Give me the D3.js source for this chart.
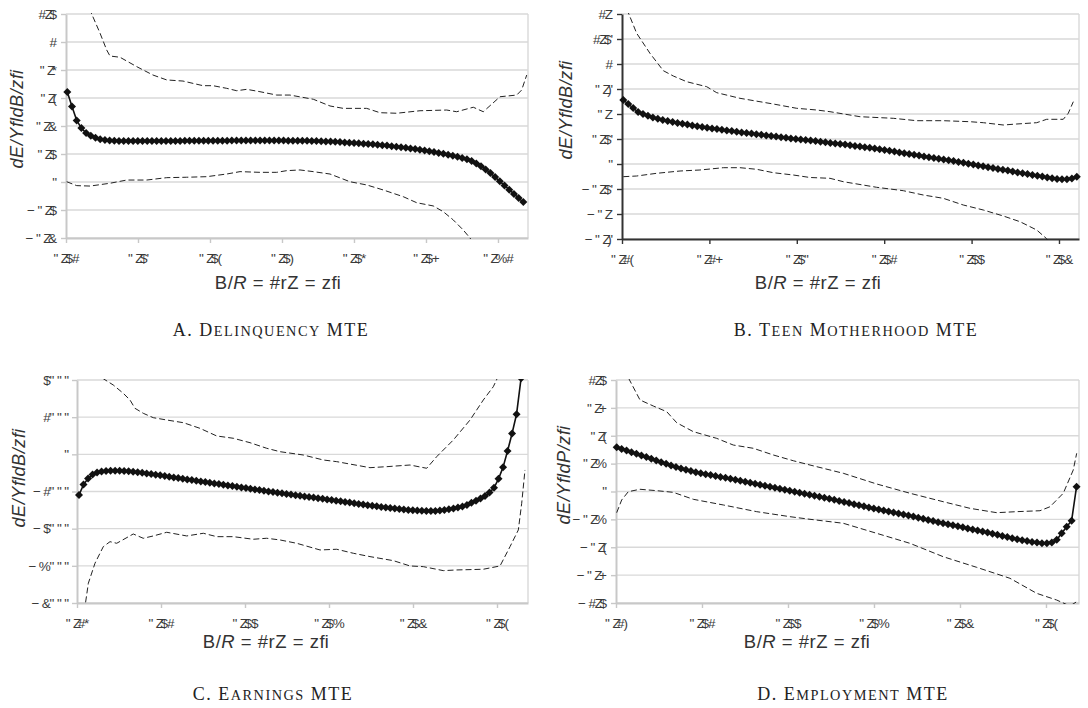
<!DOCTYPE html>
<html><head><meta charset="utf-8">
<script src="https://cdn.jsdelivr.net/npm/d3@7"></script>
<style>body{margin:0;background:#fff}svg{display:block}</style>
</head><body>
<svg id="c" width="1088" height="708"></svg>
<script>
// ---------- DATA ----------
// Panel A: Delinquency MTE
const mteA = [.643,.54,.44,.385,.35,.33,.316,.306,.3,.296,
.294,.293,.292,.292,.292,.292,.292,.292,.292,.292,
.293,.293,.293,.293,.293,.294,.294,.294,.294,.294,
.295,.295,.295,.295,.295,.296,.296,.296,.296,.296,
.296,.296,.296,.296,.296,.296,.296,.295,.295,.295,
.294,.294,.293,.292,.291,.29,.289,.287,.285,.283,
.281,.279,.277,.274,.272,.269,.266,.263,.26,.256,
.252,.248,.244,.24,.235,.23,.225,.22,.214,.208,
.202,.195,.188,.18,.172,.163,.15,.133,.113,.09,
.065,.035,.005,-.025,-.055,-.085,-.115,-.143];
const gridA = [0.018, 0.0653];
const upperA = [[.278,1.3],[.357,1.2],[.472,1.064],[.565,.943],[.611,.9],[.75,.891],[.982,.824],[1.208,.764],[1.399,.729],[1.625,.721],[1.903,.688],[2.042,.688],[2.232,.669],[2.371,.652],[2.51,.662],[2.694,.645],[2.926,.621],[3.111,.621],[3.435,.591],[3.667,.543],[3.851,.526],[4.176,.526],[4.361,.495],[4.593,.491],[4.917,.509],[5.288,.514],[5.426,.502],[5.657,.534],[5.796,.502],[6.028,.609],[6.26,.621],[6.329,.657],[6.399,.764]];
const lowerA = [[.01,.002],[.149,-.026],[.333,-.029],[.611,-.009],[.843,.014],[1.121,.014],[1.399,.031],[1.676,.034],[1.954,.038],[2.232,.057],[2.417,.074],[2.694,.069],[2.926,.069],[3.065,.081],[3.25,.086],[3.435,.074],[3.667,.057],[3.944,.002],[4.176,-.021],[4.407,-.057],[4.685,-.105],[4.871,-.148],[5.101,-.171],[5.24,-.212],[5.379,-.271],[5.518,-.343],[5.611,-.4],[5.75,-.5]];
const yTicksA = [1.2,1,0.8,0.6,0.4,0.2,0,-0.2,-0.4];
const yLabelsA = ["#Z$","#","\"Z*","\"Z(","\"Z&","\"Z$","\"","\u2212\"Z$","\u2212\"Z&"];
const xLabelsA = ["\"Z$#","\"Z$'","\"Z$(","\"Z$)","\"Z$*","\"Z$+","\"Z%#"];

// Panel B: Teen motherhood MTE
const mteB = [.64,.6,.56,.52,.5,.482,.465,.452,.44,.43,
.42,.41,.402,.394,.386,.378,.37,.363,.356,.349,
.342,.335,.329,.322,.316,.31,.304,.298,.292,.286,
.28,.274,.268,.262,.256,.25,.245,.24,.235,.229,
.223,.217,.211,.205,.2,.194,.188,.181,.175,.168,
.162,.155,.148,.14,.132,.124,.116,.108,.1,.092,
.084,.076,.068,.06,.052,.045,.037,.029,.02,.012,
.003,-.006,-.014,-.023,-.032,-.04,-.049,-.058,-.066,-.075,
-.084,-.093,-.101,-.11,-.118,-.126,-.135,-.143,-.149,-.152,
-.152,-.145,-.127];
const gridB = [0.015, 0.0564];
const upperB = [[.046,1.64],[.072,1.513],[.168,1.307],[.32,1.107],[.473,.933],[.587,.88],[.74,.823],[.969,.773],[1.084,.713],[1.35,.657],[1.731,.6],[1.999,.557],[2.228,.54],[2.38,.523],[2.723,.473],[3.104,.457],[3.372,.433],[3.676,.433],[3.982,.423],[4.134,.413],[4.363,.39],[4.516,.4],[4.745,.413],[4.859,.447],[5.049,.447],[5.106,.507],[5.164,.623]];
const lowerB = [[.015,-.127],[.168,-.12],[.397,-.093],[.664,-.07],[.892,-.06],[1.159,-.037],[1.35,-.037],[1.541,-.053],[1.731,-.087],[1.96,-.11],[2.151,-.135],[2.38,-.143],[2.532,-.177],[2.914,-.233],[3.219,-.267],[3.447,-.31],[3.676,-.343],[3.905,-.41],[4.134,-.46],[4.363,-.52],[4.554,-.577],[4.745,-.66],[4.859,-.747],[4.92,-.82]];
const yTicksB = [1.5,1.25,1,0.75,0.5,0.25,0,-0.25,-0.5,-0.75];
const yLabelsB = ["#Z","#Z$'","#","\"Z)'","\"Z","\"Z$'","\"","\u2212\"Z$'","\u2212\"Z","\u2212\"Z)'"];
const xLabelsB = ["\"Z#(","\"Z#+","\"Z$\"","\"Z$#","\"Z$$","\"Z$&"];

// Panel C: Earnings MTE
const mteC = [-1094,-815,-650,-545,-490,-462,-448,-441,-439,-440,
-446,-454,-466,-480,-497,-514,-531,-548,-566,-584,
-602,-620,-638,-656,-674,-692,-710,-728,-746,-764,
-782,-800,-818,-836,-854,-872,-890,-908,-926,-944,
-962,-980,-998,-1016,-1033,-1050,-1067,-1084,-1100,-1116,
-1132,-1148,-1164,-1180,-1197,-1214,-1231,-1248,-1265,-1282,
-1299,-1316,-1333,-1350,-1367,-1384,-1400,-1416,-1431,-1446,
-1460,-1473,-1485,-1496,-1506,-1514,-1520,-1524,-1525,-1523,
-1512,-1497,-1478,-1455,-1430,-1402,-1360,-1305,-1250,-1190,
-1120,-1030,-900,-660,-350,90,560,1080,2050];
const gridC = [0.024, 0.0537];
const upperC = [[.25,2269],[.294,2062],[.432,1865],[.551,1642],[.631,1462],[.69,1239],[.789,1104],[.908,986],[1.068,924],[1.267,851],[1.464,700],[1.663,494],[1.861,432],[2.06,313],[2.258,163],[2.417,71],[2.694,-18],[2.932,-152],[3.092,-197],[3.488,-359],[3.687,-332],[3.964,-287],[4.163,-375],[4.282,-63],[4.48,386],[4.679,924],[4.837,1462],[4.956,1820],[5.036,2200]];
const lowerC = [[.06,-4456],[.095,-4098],[.135,-3469],[.214,-2931],[.313,-2484],[.393,-2350],[.473,-2393],[.67,-2143],[.789,-2259],[.908,-2196],[1.068,-2097],[1.306,-2196],[1.504,-2124],[1.663,-2215],[1.861,-2215],[2.099,-2285],[2.258,-2258],[2.417,-2304],[2.615,-2393],[2.893,-2573],[3.092,-2554],[3.29,-2662],[3.488,-2752],[3.765,-2860],[3.964,-3003],[4.123,-3022],[4.361,-3129],[4.52,-3111],[4.837,-3092],[5.036,-3003],[5.155,-2484],[5.254,-2035],[5.294,-1317],[5.333,-421]];
const yTicksC = [2000,1000,0,-1000,-2000,-3000,-4000];
const yLabelsC = ["$\"\"\"","#\"\"\"","\"","\u2212#\"\"\"","\u2212$\"\"\"","\u2212%\"\"\"","\u2212&\"\"\""];
const xLabelsC = ["\"Z#*","\"Z$#","\"Z$$","\"Z$%","\"Z$&","\"Z$("];

// Panel D: Employment MTE
const mteD = [.476,.458,.441,.423,.405,.388,.37,.352,.334,.316,
.298,.28,.263,.248,.234,.22,.208,.197,.187,.177,
.167,.157,.147,.137,.126,.116,.105,.094,.083,.072,
.061,.05,.04,.029,.018,.007,-.003,-.013,-.024,-.035,
-.046,-.057,-.068,-.079,-.09,-.101,-.112,-.124,-.136,-.148,
-.16,-.171,-.182,-.193,-.204,-.215,-.226,-.237,-.248,-.259,
-.27,-.282,-.294,-.306,-.318,-.33,-.342,-.353,-.364,-.375,
-.386,-.397,-.408,-.419,-.43,-.442,-.454,-.466,-.478,-.49,
-.502,-.513,-.524,-.534,-.543,-.55,-.556,-.558,-.55,-.52,
-.45,-.38,-.314,.052];
const gridD = [0.008, 0.0575];
const upperD = [[.105,1.308],[.143,1.225],[.279,.985],[.434,.92],[.59,.859],[.706,.74],[.899,.644],[1.171,.572],[1.364,.5],[1.597,.465],[1.829,.393],[2.062,.331],[2.256,.285],[2.643,.196],[3.031,.081],[3.419,-.019],[3.806,-.11],[4.116,-.181],[4.427,-.228],[4.659,-.217],[4.93,-.207],[5.047,-.164],[5.201,-.019],[5.317,.231],[5.357,.411]];
const lowerD = [[.008,-.228],[.066,-.091],[.143,-.002],[.279,.024],[.473,.009],[.666,-.009],[.899,-.084],[1.248,-.145],[1.636,-.217],[2.023,-.271],[2.256,-.299],[2.643,-.342],[3.031,-.45],[3.419,-.558],[3.806,-.702],[4.194,-.816],[4.581,-.934],[4.892,-1.096],[5.124,-1.168],[5.279,-1.232],[5.357,-1.186]];
const yTicksD = [1.2,0.9,0.6,0.3,0,-0.3,-0.6,-0.9,-1.2];
const yLabelsD = ["#Z$","\"Z+","\"Z(","\"Z%","\"","\u2212\"Z%","\u2212\"Z(","\u2212\"Z+","\u2212#Z$"];
const xLabelsD = ["\"Z#)","\"Z$#","\"Z$$","\"Z$%","\"Z$&","\"Z$("];

const captionParts = [["A. D","ELINQUENCY"," MTE"],["B. T","EEN"," M","OTHERHOOD"," MTE"],["C. E","ARNINGS"," MTE"],["D. E","MPLOYMENT"," MTE"]];
const yTitleMid = ["B","B","B","P"];

// ---------- LAYOUT ----------
const panels = [
 {id:"A", mte:mteA, grid:gridA, upper:upperA, lower:lowerA, yTicks:yTicksA, yLabels:yLabelsA, xLabels:xLabelsA,
  yDom:[-0.4,1.2], xMax:6.417, box:{l:66,r:528,t:14,b:238}, axisCol:"#c8c8c8", pad:4,
  yTitle:[23,119], xTitle:[278,289], cap:[271,336]},
 {id:"B", mte:mteB, grid:gridB, upper:upperB, lower:lowerB, yTicks:yTicksB, yLabels:yLabelsB, xLabels:xLabelsB,
  yDom:[-0.75,1.5], xMax:5.229, box:{l:622,r:1079,t:14,b:239}, axisCol:"#333", pad:4,
  yTitle:[572,110], xTitle:[818,289], cap:[856,336]},
 {id:"C", mte:mteC, grid:gridC, upper:upperC, lower:lowerC, yTicks:yTicksC, yLabels:yLabelsC, xLabels:xLabelsC,
  yDom:[-4000,2000], xMax:5.369, box:{l:77,r:528,t:380,b:603}, axisCol:"#c8c8c8", pad:3,
  yTitle:[25,478], xTitle:[266,648], cap:[273,700]},
 {id:"D", mte:mteD, grid:gridD, upper:upperD, lower:lowerD, yTicks:yTicksD, yLabels:yLabelsD, xLabels:xLabelsD,
  yDom:[-1.2,1.2], xMax:5.384, box:{l:616,r:1079,t:380,b:603}, axisCol:"#c8c8c8", pad:4,
  yTitle:[570,475], xTitle:[807,648], cap:[853,700]}
];

const svg = d3.select("#c");
const sans = "'Liberation Sans', Arial, sans-serif";
const serif = "'Liberation Serif', 'Times New Roman', serif";
const defs = svg.append("defs");

// emulate the tight glyph spacing of the original labels with a per-glyph dx list (one text element)
function glyphDx(s) {
  const out = [];
  let prev = null;
  for (const ch of s) {
    let dx = 0;
    if (prev === "\"" || prev === "\u2212") dx = 2.5;
    else if (prev === "Z") dx = -3.5;
    else if (prev !== null) dx = -1.2;
    out.push(dx);
    prev = ch;
  }
  return out.join(" ");
}

panels.forEach((p, pi) => {
  const b = p.box;
  const x = d3.scaleLinear().domain([0, p.xMax]).range([b.l, b.r]);
  const y = d3.scaleLinear().domain(p.yDom).range([b.b, b.t]);
  const g = svg.append("g");

  // gridlines
  g.append("g").selectAll("line").data(p.yTicks).join("line")
    .attr("x1", b.l).attr("x2", b.r).attr("y1", d => y(d)).attr("y2", d => y(d))
    .attr("stroke", "#d9d9d9").attr("stroke-width", 1.4);
  g.append("line").attr("x1", b.r).attr("x2", b.r).attr("y1", b.t).attr("y2", b.b)
    .attr("stroke", "#d9d9d9").attr("stroke-width", 1.4);

  // axes
  const ya = g.append("g").attr("transform", `translate(${b.l},0)`)
    .call(d3.axisLeft(y).tickValues(p.yTicks).tickFormat((d, i) => p.yLabels[i]).tickSize(5).tickSizeOuter(0).tickPadding(p.pad));
  const xa = g.append("g").attr("transform", `translate(0,${b.b})`)
    .call(d3.axisBottom(x).tickValues(p.xLabels.map((d, i) => i)).tickFormat(i => p.xLabels[i]).tickSize(5).tickSizeOuter(0).tickPadding(10));
  [ya, xa].forEach(a => {
    a.select(".domain").attr("stroke", p.axisCol).attr("stroke-width", 2);
    a.selectAll(".tick line").attr("stroke", p.axisCol).attr("stroke-width", 1.4);
    a.selectAll("text").attr("font-family", sans).attr("font-size", 13.5).attr("fill", "#3a3a3a")
      .attr("dx", function () { return glyphDx(this.textContent); });
  });

  // clip
  const cid = "clip" + p.id;
  defs.append("clipPath").attr("id", cid).append("rect")
    .attr("x", b.l - 8).attr("y", b.t - 1).attr("width", b.r - b.l + 16).attr("height", b.b - b.t + 2);
  const plot = g.append("g").attr("clip-path", `url(#${cid})`);
  const line = d3.line().x(d => x(d[0])).y(d => y(d[1]));
  [p.upper, p.lower].forEach(ci => {
    plot.append("path").datum(ci).attr("d", line).attr("fill", "none")
      .attr("stroke", "#222").attr("stroke-width", 1).attr("stroke-dasharray", "6,3");
  });
  const pts = p.mte.map((v, i) => [p.grid[0] + i * p.grid[1], v]);
  plot.append("path").datum(pts).attr("d", line).attr("fill", "none")
    .attr("stroke", "#111").attr("stroke-width", 1.6);
  plot.append("g").selectAll("path").data(pts).join("path")
    .attr("d", d3.symbol(d3.symbolSquare, 32))
    .attr("transform", d => `translate(${x(d[0])},${y(d[1])}) rotate(45)`)
    .attr("fill", "#111");

  // y title
  svg.append("text").attr("transform", `translate(${p.yTitle[0]},${p.yTitle[1]}) rotate(-90)`)
    .attr("text-anchor", "middle").attr("font-family", sans).attr("font-size", 18)
    .attr("font-style", "italic").attr("fill", "#333").attr("letter-spacing", "0.6px")
    .text("dE/Y\uFB02d" + yTitleMid[pi] + "/z\uFB01");

  // x title
  const xt = svg.append("text").attr("x", p.xTitle[0]).attr("y", p.xTitle[1])
    .attr("text-anchor", "middle").attr("font-family", sans).attr("font-size", 18.5)
    .attr("fill", "#333").attr("letter-spacing", "0.5px");
  xt.append("tspan").text("B/");
  xt.append("tspan").attr("font-style", "italic").text("R");
  xt.append("tspan").text(" = #rZ = z\uFB01");

  // caption (small caps built by hand)
  const ct = svg.append("text").attr("x", p.cap[0]).attr("y", p.cap[1])
    .attr("text-anchor", "middle").attr("font-family", serif).attr("fill", "#222").attr("letter-spacing", "1.5px");
  captionParts[pi].forEach((s, k) => {
    ct.append("tspan").attr("font-size", k % 2 === 0 ? 18 : 14.3).text(s);
  });
});
</script>
</body></html>
